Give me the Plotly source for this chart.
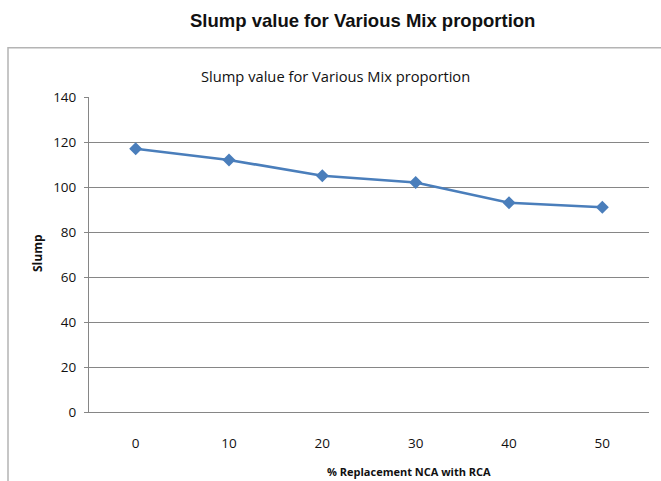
import plotly.graph_objects as go

# ---- data ----
replacement_pct = ["0", "10", "20", "30", "40", "50"]
slump_values = [117, 112, 105, 102, 93, 91]
y_ticks = [0, 20, 40, 60, 80, 100, 120, 140]

outer_title = "Slump value for Various Mix proportion"
inner_title = "Slump value for Various Mix proportion"
x_title = "% Replacement NCA with RCA"
y_title = "Slump"

# ---- layout geometry (pixels) ----
W, H = 661, 481
L, R, T, B = 89, 12, 97, 69
PW, PH = W - L - R, H - T - B


def px(xp):
    return (xp - L) / PW


def py(yp):
    return (H - B - yp) / PH


fig = go.Figure()
fig.add_trace(go.Scatter(
    x=replacement_pct, y=slump_values, mode="lines+markers",
    line=dict(color="#4A7EBB", width=2.75),
    marker=dict(symbol="diamond", size=10, color="#4A7EBB"),
    showlegend=False, hoverinfo="x+y",
))

fig.update_layout(
    width=W, height=H,
    margin=dict(l=L, r=R, t=T, b=B, pad=0),
    paper_bgcolor="white", plot_bgcolor="white",
    font=dict(family="Open Sans", color="#111"),
    xaxis=dict(
        type="category", range=[-0.5, 5.5],
        showgrid=False, zeroline=False,
        showline=True, linecolor="#868686", linewidth=1,
        ticks="", tickfont=dict(size=13.5, color="#111"),
        ticklabelstandoff=19,
    ),
    yaxis=dict(
        range=[0, 140], tickvals=y_ticks,
        showgrid=True, gridcolor="#868686", gridwidth=1,
        zeroline=False,
        showline=True, linecolor="#868686", linewidth=1,
        ticks="outside", ticklen=4, tickcolor="#868686",
        tickfont=dict(size=13.5, color="#111"),
        ticklabelstandoff=5,
    ),
    shapes=[dict(
        type="rect", xref="paper", yref="paper",
        x0=px(8), x1=px(720), y0=py(47.7), y1=py(560),
        line=dict(color="#b4b4b4", width=1.5), fillcolor="rgba(0,0,0,0)",
        layer="below",
    )],
    annotations=[
        dict(text="<b>" + outer_title + "</b>", xref="paper", yref="paper",
             x=px(362), y=py(21), xanchor="center", yanchor="middle",
             showarrow=False, font=dict(family="Liberation Sans", size=18.5, color="#111")),
        dict(text=inner_title, xref="paper", yref="paper",
             x=px(335), y=py(75.5), xanchor="center", yanchor="middle",
             showarrow=False, font=dict(family="Open Sans", size=14.7, color="#111")),
        dict(text="<b>" + x_title + "</b>", xref="paper", yref="paper",
             x=px(408.7), y=py(471), xanchor="center", yanchor="middle",
             showarrow=False, font=dict(family="Open Sans", size=11, color="#111")),
        dict(text="<b>" + y_title + "</b>", xref="paper", yref="paper",
             x=px(37), y=py(253), xanchor="center", yanchor="middle",
             textangle=-90, showarrow=False,
             font=dict(family="Open Sans", size=12, color="#111")),
    ],
)

fig.write_html("out.html", config={"displayModeBar": False})
